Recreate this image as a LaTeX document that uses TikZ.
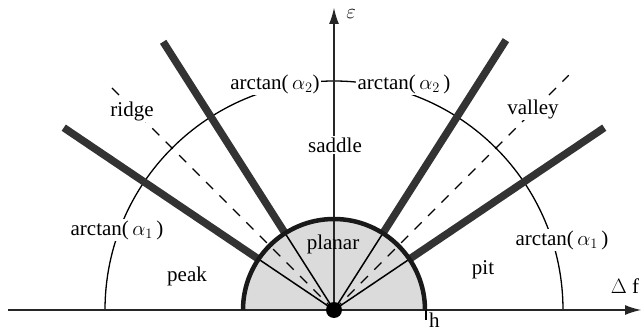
\documentclass[tikz,border=0pt]{standalone}
\usepackage{fontspec}
\setmainfont{Liberation Serif}
\usetikzlibrary{arrows.meta}

\begin{document}
\begin{tikzpicture}[
    x=1pt, y=1pt,
    dot/.style={circle, fill=black, inner sep=0pt, minimum size=16pt},
    axis/.style={line width=2.4pt, black!85},
    ray/.style={line width=7.5pt, black!80},
    rim/.style={line width=4.5pt, black!90},
    thin/.style={line width=1.5pt},
    guide/.style={line width=1.3pt, dash pattern=on 10pt off 9pt},
    lbl/.style={fill=white, inner sep=1.5pt},
    >={Latex[length=17pt, width=10pt]},
    font=\fontsize{21}{25}\selectfont
]
    \useasboundingbox (-334,-21) rectangle (310,310);

    % 顶点与端点
    \coordinate (O) at (0,0);
    \coordinate (xL) at (-326,0);
    \coordinate (xR) at (308,0);
    \coordinate (yT) at (0,303);

    \coordinate (p1in) at (146:91);   \coordinate (p1out) at (146:326);
    \coordinate (p2in) at (122.5:91); \coordinate (p2out) at (122.5:318);
    \coordinate (p3in) at (57.5:91);  \coordinate (p3out) at (57.5:320);
    \coordinate (p4in) at (34:91);    \coordinate (p4out) at (34:326);
    \coordinate (d1) at (135:318);
    \coordinate (d2) at (45:332);

    % 平面区域 (半圆)
    \fill[black!14] (91,0) arc (0:180:91) -- cycle;

    % 半圆内的细线
    \draw[thin] (O) -- (p1in);
    \draw[thin] (O) -- (p2in);
    \draw[thin] (O) -- (p3in);
    \draw[thin] (O) -- (p4in);

    % 虚线
    \draw[guide] (O) -- (d1);
    \draw[guide] (O) -- (d2);

    % 大圆弧
    \draw[line width=1.3pt] (229,0) arc (0:180:229);

    % 坐标轴
    \draw[axis, ->] (xL) -- (xR);
    \draw[axis, ->] (O) -- (yT);

    % 粗射线
    \draw[ray] (p1in) -- (p1out);
    \draw[ray] (p2in) -- (p2out);
    \draw[ray] (p3in) -- (p3out);
    \draw[ray] (p4in) -- (p4out);

    % 半圆边界
    \draw[rim] (91,0) arc (0:180:91);

    % h 刻度
    \coordinate (hTop) at (92,0);
    \coordinate (hBot) at (92,-10);
    \draw[line width=1.5pt] (hTop) -- (hBot);
    \node[inner sep=0pt, anchor=north west] (hLbl) at (95,-3) {h};

    % 标签
    \node[lbl] (eps) at (17,296) {$\varepsilon$};
    \node (df) at (291,24) {$\Delta$ f};
    \node[lbl] (a1L) at (-217,80) {arctan(\,$\alpha_1$\,)};
    \node[lbl] (a1R) at (228,70) {arctan(\,$\alpha_1$\,)};
    \node[lbl] (a2L) at (-59,226) {arctan(\,$\alpha_2$)};
    \node[lbl] (a2R) at (70,226) {arctan(\,$\alpha_2$\,)};
    \node[lbl] (ridge) at (-202,199) {ridge};
    \node[lbl] (valley) at (199,201) {valley};
    \node[lbl] (saddle) at (1,165) {saddle};
    \node (planar) at (-1,66) {planar};
    \node (peak) at (-147,34) {peak};
    \node (pit) at (149,40) {pit};

    % 原点
    \node[dot] (Odot) at (O) {};
\end{tikzpicture}
\end{document}
